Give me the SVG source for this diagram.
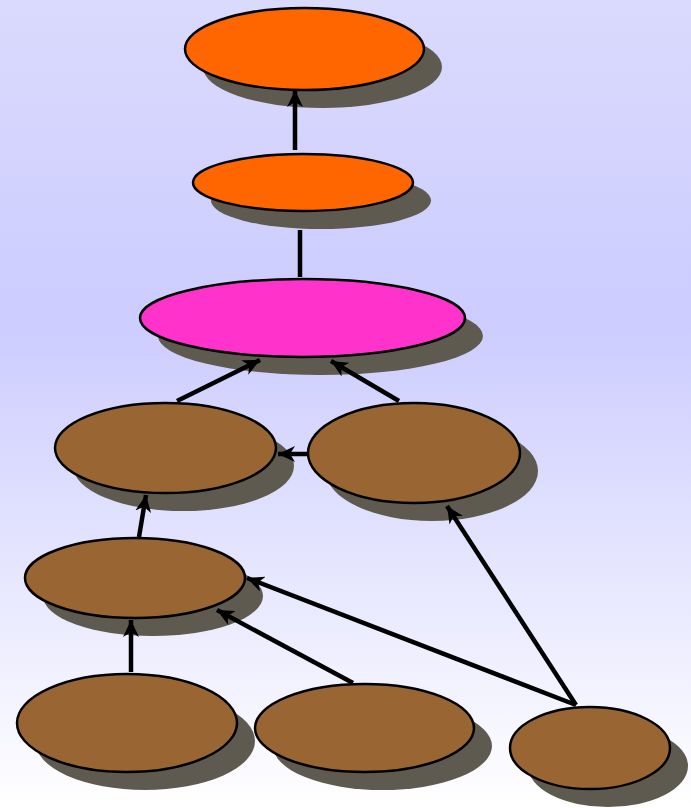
<svg xmlns="http://www.w3.org/2000/svg" width="691" height="808" viewBox="0 0 691 808">
<defs>
<linearGradient id="bg" x1="0" y1="0" x2="0" y2="1">
<stop offset="0" stop-color="#dadafd"/>
<stop offset="0.4" stop-color="#ccccff"/>
<stop offset="1" stop-color="#ffffff"/>
</linearGradient>
<marker id="ah" markerUnits="userSpaceOnUse" markerWidth="18" markerHeight="16" refX="17" refY="8" orient="auto" viewBox="0 0 18 16">
<path d="M0,0 L17,8 L0,16 L5,8 z" fill="#000"/>
</marker>
<style>
.sh{fill:#5f5a50}
.n{stroke:#000;stroke-width:2.5}
.br{fill:#996633}
.or{fill:#ff6600}
.mg{fill:#ff33cc}
.e{stroke:#000;stroke-width:4.5;fill:none}
.a{marker-end:url(#ah)}
</style>
</defs>
<rect width="691" height="808" fill="url(#bg)"/>
<g id="n1"><ellipse class="sh" cx="322.5" cy="67" rx="119.5" ry="41"/><ellipse class="n or" cx="304.5" cy="49" rx="119.5" ry="41"/></g>
<g id="n2"><ellipse class="sh" cx="321" cy="200.5" rx="110" ry="28.5"/><ellipse class="n or" cx="303" cy="182.5" rx="110" ry="28.5"/></g>
<g id="n3"><ellipse class="sh" cx="320.5" cy="336" rx="162.5" ry="39"/><ellipse class="n mg" cx="302.5" cy="318" rx="162.5" ry="39"/></g>
<g id="n4"><ellipse class="sh" cx="183.5" cy="466" rx="110.5" ry="45"/><ellipse class="n br" cx="165.5" cy="448" rx="110.5" ry="45"/></g>
<g id="n5"><ellipse class="sh" cx="432" cy="471" rx="106" ry="50"/><ellipse class="n br" cx="414" cy="453" rx="106" ry="50"/></g>
<g id="n6"><ellipse class="sh" cx="153" cy="596" rx="110" ry="40"/><ellipse class="n br" cx="135" cy="578" rx="110" ry="40"/></g>
<g id="n7"><ellipse class="sh" cx="145" cy="741" rx="110" ry="49"/><ellipse class="n br" cx="127" cy="723" rx="110" ry="49"/></g>
<g id="n8"><ellipse class="sh" cx="382.5" cy="746" rx="109.5" ry="44"/><ellipse class="n br" cx="364.5" cy="728" rx="109.5" ry="44"/></g>
<g id="n9"><ellipse class="sh" cx="608" cy="766" rx="80" ry="41"/><ellipse class="n br" cx="590" cy="748" rx="80" ry="41"/></g>
<g id="edges">
<line class="e a" x1="295" y1="150" x2="295" y2="90"/>
<line class="e" x1="300" y1="230" x2="300" y2="277"/>
<line class="e a" x1="177" y1="401" x2="260" y2="360"/>
<line class="e a" x1="399" y1="401" x2="331" y2="361"/>
<line class="e a" x1="308" y1="454" x2="278" y2="454"/>
<line class="e a" x1="139" y1="537" x2="146" y2="495"/>
<line class="e a" x1="131" y1="672" x2="131" y2="620"/>
<line class="e a" x1="353" y1="683" x2="217" y2="610"/>
<line class="e a" x1="576" y1="705" x2="247" y2="578"/>
<line class="e a" x1="576" y1="705" x2="447" y2="506"/>
</g>
</svg>
